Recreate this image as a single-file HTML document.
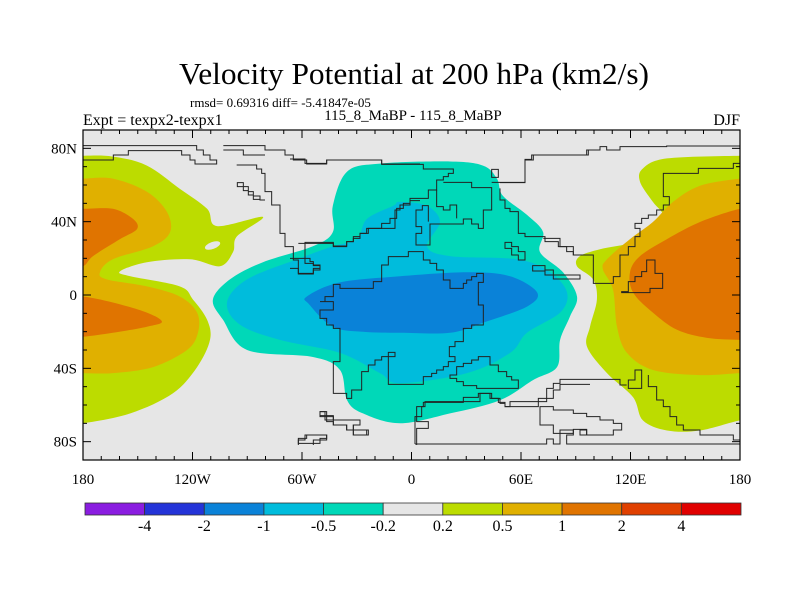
<!DOCTYPE html>
<html><head><meta charset="utf-8">
<style>
html,body{margin:0;padding:0;background:#fff;}
svg{display:block;}
text{font-family:"Liberation Serif",serif;fill:#000;}
</style></head>
<body>
<svg id="chart" width="800" height="600" viewBox="0 0 800 600" xmlns="http://www.w3.org/2000/svg">
  <defs>
    <clipPath id="plotclip"><rect x="83" y="130" width="657" height="330"/></clipPath>
  </defs>
  <text x="414" y="84" font-size="31" text-anchor="middle" textLength="470" lengthAdjust="spacingAndGlyphs">Velocity Potential at 200 hPa (km2/s)</text>
  <text x="190" y="107" font-size="13">rmsd= 0.69316 diff= -5.41847e-05</text>
  <text x="83" y="125" font-size="16">Expt = texpx2-texpx1</text>
  <text x="413" y="120" font-size="15" text-anchor="middle">115_8_MaBP - 115_8_MaBP</text>
  <text x="740" y="125" font-size="16" text-anchor="end">DJF</text>
  <rect x="83" y="130" width="657" height="330" fill="#e6e6e6"/>
  <g id="fields" clip-path="url(#plotclip)"></g>
  <g id="coasts" clip-path="url(#plotclip)" fill="none" stroke="#222" stroke-width="1">
    <g transform="translate(80,140) scale(0.33333)">
      <path vector-effect="non-scaling-stroke" d="M0,60 H100 V45 H145 V32 H305 V45 H330 V60 H345 V72 H410 V60 H390 V45 H370 V30 H350 V17 H0"/>
      <path vector-effect="non-scaling-stroke" d="M430,17 H555 V30 H615 V45 H640 V60 H680 V72 H740 V60 H905 V72 H1020"/>
      <path vector-effect="non-scaling-stroke" d="M430,30 H490 V45 H555"/>
      <path vector-effect="non-scaling-stroke" d="M470,75 H530 V87 H545 V100 H555 V155 H575 V195 H600 V280 H615 V320 H640 V360 H655 V402 H700 V385 H720 V375 H700 V365 H690 V355 H675 V307 H760 V320 H800 V305 H820 V290 H840 V280 H860 V265 H945 V210 H960 V195 H990 V182 H1020"/>
      <path vector-effect="non-scaling-stroke" d="M555,180 H540 V168 H520 V155 H505 V140 H490 V128 H472 V140 H490 V152 H505 V165 H520 V178 H540 V180"/>
      <path vector-effect="non-scaling-stroke" d="M720,815 H740 V830 H760 V840 H840 V855 H820 V870 H860 V885 H820 V870 H800 V855 H760 V845 H740 V830 H720 Z"/>
      <path vector-effect="non-scaling-stroke" d="M655,910 H720 V895 H740 V885 H680 V895 H655 Z"/>
    </g>
    <g transform="translate(290,145) scale(0.33333)">
      <path vector-effect="non-scaling-stroke" d="M25,295 H130 V303 H170 V290 H190 V280 H210 V265 H235 V250 H275 V235 H300 V220 H320 V190 H340 V175 H360 V160 H415 V135 H440 V105 H460 V95 H475 V85 H490 V72 H400 V58 H275 V45 H110 V55 H45 V42 H0"/>
      <path vector-effect="non-scaling-stroke" d="M460,112 H545 V128 H605 V195 H580 V250 H565 V237 H545 V222 H520 V237 H420 V300 H378 V265 H395 V245 H378 V195 H397 V182 H415 V230"/>
      <path vector-effect="non-scaling-stroke" d="M440,135 V185 H460 V195 H480 V180 H500 V220"/>
      <path vector-effect="non-scaling-stroke" d="M605,112 H705 V45 H730 V30 H895 V15"/>
      <path vector-effect="non-scaling-stroke" d="M630,130 V165 H645 V190 H660 V200 H685 V265 H705 V275 H765 V290 H805 V305 H850 V330 H900"/>
      <path vector-effect="non-scaling-stroke" d="M645,292 H665 V305 H685 V320 H705 V345 H685 V330 H665 V310 H645 Z"/>
      <path vector-effect="non-scaling-stroke" d="M728,362 H765 V375 H790 V390 H870 V402 H790 V390 H765 V378 H728 Z"/>
      <path vector-effect="non-scaling-stroke" d="M0,340 H45 V355 H70 V362 H90 V375 H70 V385 H25 V370 H0"/>
      <path vector-effect="non-scaling-stroke" d="M90,470 H130 V495 H90 V520 H110 V540 H130 V550 H150 V650 H130 V745 H170 V760 H185 V735 H215 V680 H235 V660 H255 V645 H275 V635 H315 V622 H295 V655 H295 V718 H400 V695 H425 V685 H440 V675 H460 V665 H475 V650 H495 V635 H478 V605 H495 V590 H520 V550 H545 V540 H580 V480 H565 V412 H580 V385 H560 V395 H545 V405 H530 V415 H520 V430 H480 V405 H460 V375 H440 V355 H420 V345 H400 V320 H355 V335 H295 V360 H275 V410 H250 V430 H150 V418 H130 V455 H105 V470 H90 Z"/>
      <path vector-effect="non-scaling-stroke" d="M480,690 H500 V665 H520 V655 H545 V645 H565 V635 H600 V660 H625 V680 H650 V695 H665 V705 H685 V730 H560 V722 H520 V710 H500 V700 H480 Z"/>
      <path vector-effect="non-scaling-stroke" d="M380,900 V850 H415 V830 H380 V785 H400 V772 H520 V757 H565 V745 H600 V760 H625 V772 H645 V785 H745 V760 H790 V735 H810 V718 H900"/>
      <path vector-effect="non-scaling-stroke" d="M90,800 H105 V812 H130 V825 H210 V840 H190 V855 H235 V870 H190 V855 H170 V840 H130 V825 H105 V812 H90 Z"/>
      <path vector-effect="non-scaling-stroke" d="M25,900 V885 H45 V870 H110 V885 H70 V900"/>
    </g>
    <g transform="translate(400,140) scale(0.33333)">
      <path vector-effect="non-scaling-stroke" d="M300,128 H375 V58 H395 V45 H560 V30 H600 V20 H620 V30 H660 V20 H800 V18 H1028"/>
      <path vector-effect="non-scaling-stroke" d="M275,88 H295 V112 H275 Z"/>
      <path vector-effect="non-scaling-stroke" d="M430,295 H480 V320 H500 V335 H520 V345 H580 V430 H640 V410 H660 V345 H685 V320 H705 V290 H720 V265 H705 V250 H725 V235 H745 V225 H770 V210 H790 V195 H808 V170 H790 V100 H895 V85 H1000 V70 H1020 V60"/>
      <path vector-effect="non-scaling-stroke" d="M685,455 V425 H705 V410 H725 V395 H740 V360 H765 V400 H788 V445 H750 V458 H665 V455 Z"/>
      <path vector-effect="non-scaling-stroke" d="M705,690 H725 V745 H685 V720 H705 Z"/>
      <path vector-effect="non-scaling-stroke" d="M745,705 V740 H770 V780 H790 V800 H810 V830 H830 V855 H850 V870 H900 V885 H1000 V900 H1028"/>
      <path vector-effect="non-scaling-stroke" d="M45,912 H440 V897 H460 V912 H480 V870 H520 V885 H500 V912 H1020"/>
      <path vector-effect="non-scaling-stroke" d="M45,912 V830 H65 V800 H75 V785 H240 V760 H275 V775 H300 V790 H315 V800 H330 V785 H440 V745 H460 V730 H480 V718 H660 V735 H680"/>
      <path vector-effect="non-scaling-stroke" d="M420,800 V855 H460 V880 H520 V868 H560 V885 H640 V870 H665 V850 H640 V840 H600 V830 H560 V820 H520 V810 H460 V800 Z"/>
      <path vector-effect="non-scaling-stroke" d="M540,870 H560 V885 H540 Z"/>
    </g>
  </g>
  <g id="axes"></g>
  <g id="colorbar"></g>
  <rect x="83" y="130" width="657" height="330" fill="none" stroke="#000" stroke-width="1.2"/>
</svg>
<script>
// ---- data ----
const levels = ["-4","-2","-1","-0.5","-0.2","0.2","0.5","1","2","4"];
const levelColors = ["#8a1de0","#2434d8","#0a82d8","#00bcdc","#00d8b8","#e6e6e6","#bcdc00","#e0b000","#e07400","#e04000","#e00000"];
const lonTicks = [-180,-120,-60,0,60,120,180];
const lonTickLabels = ["180","120W","60W","0","60E","120E","180"];
const latTicks = [80,40,0,-40,-80];
const latTickLabels = ["80N","40N","0","40S","80S"];
// contour regions as [lon,lat] outlines, with their colour-class index
const regionLevel = [6,7,8,8,6,7,8,4,3,2];
const westGreen = [[-190,76],[-180,76],[-163.6,75.5],[-145,70.6],[-127,58],[-112,47],[-106.6,37.6],[-81.4,42.6],[-95.6,32],[-97.8,23.4],[-105,15.7],[-121.4,19.5],[-145,17.9],[-159.7,12.9],[-154,10.2],[-127,4.7],[-119.7,-2.5],[-112,-13.5],[-110.4,-24.5],[-117.5,-39.3],[-130.7,-53.6],[-154,-64.6],[-180,-70],[-190,-70]];
const westYellow = [[-190,63.5],[-180,63.5],[-163.6,63.5],[-145,56.3],[-134,45.3],[-132.3,34.3],[-141.6,26.6],[-163.6,19.5],[-170.7,12.4],[-167,8.5],[-145,4.7],[-127,-0.8],[-117.5,-9.6],[-117,-20.5],[-123,-30],[-141.6,-39.3],[-163.6,-42.6],[-180,-42.6],[-190,-42.6]];
const westOrangeN = [[-190,47],[-180,47],[-163.6,47],[-152.6,41.5],[-150.4,36],[-159.7,30.5],[-174.5,21.2],[-180,15.7],[-190,15]];
const westOrangeS = [[-190,-0.8],[-180,-0.8],[-163.6,-4.1],[-145,-9.6],[-136.7,-14.6],[-145,-17.3],[-163.6,-20.6],[-180,-22.8],[-190,-23]];
const eastGreen = [[190,76],[180,76],[140,74.5],[126.8,69],[125.2,61.8],[132.3,50.8],[137.8,43.7],[134.5,36],[121.4,28.8],[103.3,25],[92.3,21.2],[90.7,15.7],[99.5,8.5],[101.6,-2.5],[97.8,-17.3],[96.2,-28.3],[107.1,-42.6],[121.4,-55.8],[126.8,-68.4],[140,-73.9],[158.1,-73.9],[180,-68.4],[190,-68]];
const eastYellow = [[190,63.5],[180,63.5],[158.1,59.6],[143.3,50.8],[132.3,39.8],[119.7,30.5],[107.1,19.5],[104.9,14],[110.4,3],[112.6,-17.3],[118.1,-31.6],[132.3,-40.9],[158.1,-43.7],[180,-42.6],[190,-42.6]];
const eastOrange = [[190,47],[180,47],[158.1,39.8],[140,30.5],[125.2,21.2],[119.7,12.4],[121.4,1.4],[132.3,-9.6],[145.5,-19],[161.9,-23.4],[180,-24.5],[190,-24.5]];
const centralTurq = [[-35.3,67.3],[-17.3,71.7],[21.1,72.8],[39.2,70.6],[46.8,63.5],[50.1,54.1],[63.3,43.7],[72.1,34.3],[70.4,23.4],[83,12.4],[90.7,-0.8],[86.8,-11.8],[81.4,-24.5],[79.7,-39.3],[66.6,-46.4],[48.5,-57.4],[21.1,-64.6],[-6.3,-70],[-26.6,-64.6],[-35.3,-57.4],[-39.2,-40.9],[-54,-33.8],[-90.1,-30],[-103.3,-13.5],[-108.8,-2.5],[-99.5,8.5],[-81.4,17.9],[-54,26.6],[-43.1,34.3],[-43.1,48.6]];
const centralCyan = [[-10.1,48.6],[-6.3,50.8],[8.5,48.6],[15.6,39.8],[8.5,26.6],[21.1,21.2],[57.8,19.5],[75.9,12.4],[85.2,1.4],[81.4,-9.6],[63.3,-20.6],[54,-31.6],[30.4,-42.6],[-6.3,-48.1],[-17.3,-42.6],[-39.2,-31.6],[-72.1,-24.5],[-94,-16.2],[-101.1,-4.1],[-90.1,8.5],[-62.7,19.5],[-43.1,26.6],[-29.9,30.5],[-24.4,41.5]];
const centralBlue = [[-57.3,-0.8],[-39.2,6.9],[-6.3,10.2],[30.4,12.4],[54,10.2],[68.8,1.4],[63.3,-6.3],[39.2,-15.1],[21.1,-20.6],[-6.3,-20.6],[-26.6,-20.1],[-43.1,-17.3],[-56,-5.2]];
const regions = [westGreen,westYellow,westOrangeN,westOrangeS,eastGreen,eastYellow,eastOrange,centralTurq,centralCyan,centralBlue];
const regionNames = ["west-positive-0.2","west-positive-0.5","west-positive-1-north","west-positive-1-south","east-positive-0.2","east-positive-0.5","east-positive-1","central-negative-0.2","central-negative-0.5","central-negative-1"];
const holeCenter = [-109,27]; // small gray hole in west lobe

// ---- axis functions ----
const X0=83, X1=740, Y0=130, Y1=460;
function xOf(lon){ return X0 + (lon+180)/360*(X1-X0); }
function yOf(lat){ return Y0 + (90-lat)/180*(Y1-Y0); }
const NS="http://www.w3.org/2000/svg";
function mk(tag, attrs, parent){ const e=document.createElementNS(NS,tag); for(const k in attrs) e.setAttribute(k,attrs[k]); parent.appendChild(e); return e; }

function smoothPath(pts){
  const p = pts.map(d=>[xOf(d[0]), yOf(d[1])]);
  const n=p.length; let s="M"+p[0][0].toFixed(1)+","+p[0][1].toFixed(1);
  for(let i=0;i<n;i++){
    const a=p[(i-1+n)%n], b=p[i], c=p[(i+1)%n], d=p[(i+2)%n];
    const c1=[b[0]+(c[0]-a[0])/6, b[1]+(c[1]-a[1])/6];
    const c2=[c[0]-(d[0]-b[0])/6, c[1]-(d[1]-b[1])/6];
    s+=" C"+c1[0].toFixed(1)+","+c1[1].toFixed(1)+" "+c2[0].toFixed(1)+","+c2[1].toFixed(1)+" "+c[0].toFixed(1)+","+c[1].toFixed(1);
  }
  return s+"Z";
}

const fields=document.getElementById('fields');
regions.forEach((r,i)=>{
  const el=mk('path',{d:smoothPath(r),fill:levelColors[regionLevel[i]]},fields);
  
  
});
const hole=mk('ellipse',{cx:xOf(holeCenter[0]),cy:yOf(holeCenter[1]),rx:8,ry:3.5,fill:levelColors[5],transform:"rotate(-20 "+xOf(holeCenter[0])+" "+yOf(holeCenter[1])+")"},fields);



// ---- axes ----
const axes=document.getElementById('axes');
for(let lon=-180;lon<=180;lon+=10){
  const major = lon%60===0;
  const L = major?8:4;
  const x=xOf(lon);
  const t1=mk('line',{x1:x,x2:x,y1:Y1,y2:Y1-L,stroke:"#000","stroke-width":1},axes);
  
  
  const t2=mk('line',{x1:x,x2:x,y1:Y0,y2:Y0+L,stroke:"#000","stroke-width":1},axes);
  
  
}
for(let lat=-90;lat<=90;lat+=10){
  const major = lat%40===0;
  const L = major?8:4;
  const y=yOf(lat);
  const t1=mk('line',{x1:X0,x2:X0+L,y1:y,y2:y,stroke:"#000","stroke-width":1},axes);
  
  
  const t2=mk('line',{x1:X1,x2:X1-L,y1:y,y2:y,stroke:"#000","stroke-width":1},axes);
  
  
}
lonTicks.forEach((lon,i)=>{
  const t=mk('text',{x:xOf(lon),y:484,"font-size":15,"text-anchor":"middle"},axes);
  t.textContent=lonTickLabels[i];
  
  
});
latTicks.forEach((lat,i)=>{
  const t=mk('text',{x:77,y:yOf(lat)+5,"font-size":15,"text-anchor":"end"},axes);
  t.textContent=latTickLabels[i];
  
  
});

// ---- colorbar ----
const cb=document.getElementById('colorbar');
const CB0=85, CB1=741, CBY=503, CBH=12;
const bw=(CB1-CB0)/levelColors.length;
levelColors.forEach((c,i)=>{
  const r=mk('rect',{x:CB0+i*bw,y:CBY,width:bw,height:CBH,fill:c,stroke:"#333","stroke-width":0.8},cb);
  
  
});
levels.forEach((lv,i)=>{
  const t=mk('text',{x:CB0+(i+1)*bw,y:531,"font-size":16,"text-anchor":"middle"},cb);
  t.textContent=lv;
  
  
});
</script>
</body></html>
